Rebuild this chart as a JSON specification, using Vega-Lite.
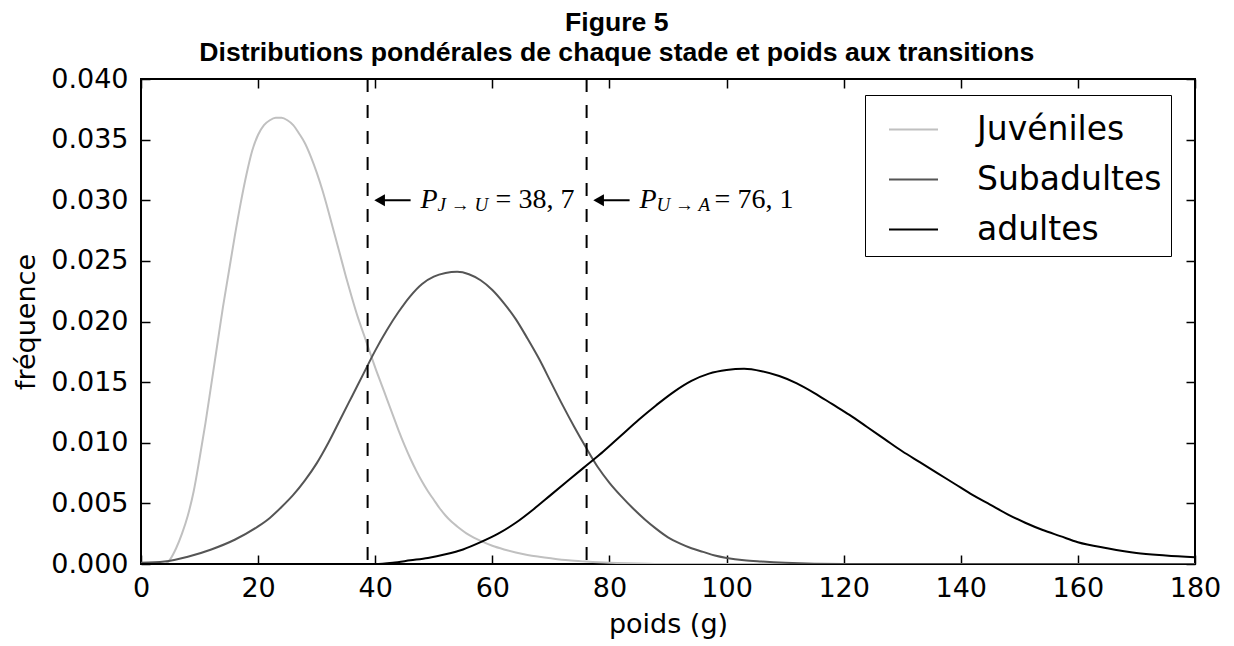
{
  "$schema": "https://vega.github.io/schema/vega-lite/v6.json",
  "width": 1054,
  "height": 485,
  "autosize": {"type": "none"},
  "padding": {"left": 141, "top": 79, "right": 39, "bottom": 82},
  "background": "white",
  "title": {
    "text": ["Figure 5", "Distributions pondérales de chaque stade et poids aux transitions"],
    "font": "Liberation Sans",
    "fontSize": 26.6,
    "fontWeight": "bold",
    "lineHeight": 30,
    "color": "black",
    "anchor": "middle",
    "frame": "bounds",
    "offset": -2
  },
  "config": {
    "view": {"stroke": "black", "strokeWidth": 2},
    "axis": {
      "grid": false,
      "domain": false,
      "tickColor": "black",
      "tickWidth": 1.5,
      "tickSize": -9,
      "labelFont": "DejaVu Sans",
      "labelFontSize": 27,
      "labelColor": "black",
      "titleFont": "DejaVu Sans",
      "titleFontSize": 27,
      "titleFontWeight": "normal",
      "titleColor": "black"
    }
  },
  "datasets": {
    "courbes": [
      {"stade": "Juvéniles", "poids": 0, "freq": 0},
      {"stade": "Juvéniles", "poids": 2, "freq": 0},
      {"stade": "Juvéniles", "poids": 4, "freq": 0},
      {"stade": "Juvéniles", "poids": 4.5, "freq": 0.0001},
      {"stade": "Juvéniles", "poids": 5, "freq": 0.0004},
      {"stade": "Juvéniles", "poids": 6, "freq": 0.0013},
      {"stade": "Juvéniles", "poids": 7, "freq": 0.0025},
      {"stade": "Juvéniles", "poids": 8, "freq": 0.004},
      {"stade": "Juvéniles", "poids": 9, "freq": 0.006},
      {"stade": "Juvéniles", "poids": 10, "freq": 0.0087},
      {"stade": "Juvéniles", "poids": 11, "freq": 0.0116},
      {"stade": "Juvéniles", "poids": 12, "freq": 0.0148},
      {"stade": "Juvéniles", "poids": 13, "freq": 0.018},
      {"stade": "Juvéniles", "poids": 14, "freq": 0.0212},
      {"stade": "Juvéniles", "poids": 15, "freq": 0.0241},
      {"stade": "Juvéniles", "poids": 16, "freq": 0.027},
      {"stade": "Juvéniles", "poids": 17, "freq": 0.0297},
      {"stade": "Juvéniles", "poids": 18, "freq": 0.0321},
      {"stade": "Juvéniles", "poids": 19, "freq": 0.0341},
      {"stade": "Juvéniles", "poids": 20, "freq": 0.0354},
      {"stade": "Juvéniles", "poids": 21, "freq": 0.0362},
      {"stade": "Juvéniles", "poids": 22, "freq": 0.0366},
      {"stade": "Juvéniles", "poids": 23, "freq": 0.0368},
      {"stade": "Juvéniles", "poids": 24, "freq": 0.0368},
      {"stade": "Juvéniles", "poids": 25, "freq": 0.0366},
      {"stade": "Juvéniles", "poids": 26, "freq": 0.0362},
      {"stade": "Juvéniles", "poids": 27, "freq": 0.0355},
      {"stade": "Juvéniles", "poids": 28, "freq": 0.0347},
      {"stade": "Juvéniles", "poids": 29, "freq": 0.0336},
      {"stade": "Juvéniles", "poids": 30, "freq": 0.0323},
      {"stade": "Juvéniles", "poids": 31, "freq": 0.0308},
      {"stade": "Juvéniles", "poids": 32, "freq": 0.0291},
      {"stade": "Juvéniles", "poids": 33, "freq": 0.0273},
      {"stade": "Juvéniles", "poids": 34, "freq": 0.0255},
      {"stade": "Juvéniles", "poids": 35, "freq": 0.0237},
      {"stade": "Juvéniles", "poids": 36, "freq": 0.022},
      {"stade": "Juvéniles", "poids": 37, "freq": 0.0204},
      {"stade": "Juvéniles", "poids": 38, "freq": 0.019},
      {"stade": "Juvéniles", "poids": 39, "freq": 0.0176},
      {"stade": "Juvéniles", "poids": 40, "freq": 0.0162},
      {"stade": "Juvéniles", "poids": 41, "freq": 0.0149},
      {"stade": "Juvéniles", "poids": 42, "freq": 0.0136},
      {"stade": "Juvéniles", "poids": 43, "freq": 0.0123},
      {"stade": "Juvéniles", "poids": 44, "freq": 0.011},
      {"stade": "Juvéniles", "poids": 45, "freq": 0.0098},
      {"stade": "Juvéniles", "poids": 46, "freq": 0.0087},
      {"stade": "Juvéniles", "poids": 47, "freq": 0.0077},
      {"stade": "Juvéniles", "poids": 48, "freq": 0.0068},
      {"stade": "Juvéniles", "poids": 49, "freq": 0.006},
      {"stade": "Juvéniles", "poids": 50, "freq": 0.0053},
      {"stade": "Juvéniles", "poids": 51, "freq": 0.0046},
      {"stade": "Juvéniles", "poids": 52, "freq": 0.004},
      {"stade": "Juvéniles", "poids": 53, "freq": 0.0035},
      {"stade": "Juvéniles", "poids": 54, "freq": 0.0031},
      {"stade": "Juvéniles", "poids": 56, "freq": 0.0024},
      {"stade": "Juvéniles", "poids": 58, "freq": 0.0019},
      {"stade": "Juvéniles", "poids": 60, "freq": 0.0015},
      {"stade": "Juvéniles", "poids": 62, "freq": 0.0012},
      {"stade": "Juvéniles", "poids": 64, "freq": 0.00095},
      {"stade": "Juvéniles", "poids": 66, "freq": 0.00075},
      {"stade": "Juvéniles", "poids": 68, "freq": 0.0006},
      {"stade": "Juvéniles", "poids": 70, "freq": 0.00047},
      {"stade": "Juvéniles", "poids": 73, "freq": 0.0003},
      {"stade": "Juvéniles", "poids": 76, "freq": 0.0002},
      {"stade": "Juvéniles", "poids": 80, "freq": 0.0001},
      {"stade": "Juvéniles", "poids": 85, "freq": 0.00005},
      {"stade": "Juvéniles", "poids": 90, "freq": 0},
      {"stade": "Juvéniles", "poids": 120, "freq": 0},
      {"stade": "Juvéniles", "poids": 180, "freq": 0},
      {"stade": "Subadultes", "poids": 0, "freq": 0.0001},
      {"stade": "Subadultes", "poids": 4, "freq": 0.0002},
      {"stade": "Subadultes", "poids": 8, "freq": 0.0006},
      {"stade": "Subadultes", "poids": 12, "freq": 0.0012},
      {"stade": "Subadultes", "poids": 16, "freq": 0.002},
      {"stade": "Subadultes", "poids": 20, "freq": 0.0031},
      {"stade": "Subadultes", "poids": 22, "freq": 0.0038},
      {"stade": "Subadultes", "poids": 24, "freq": 0.0047},
      {"stade": "Subadultes", "poids": 26, "freq": 0.0057},
      {"stade": "Subadultes", "poids": 28, "freq": 0.0069},
      {"stade": "Subadultes", "poids": 30, "freq": 0.0083},
      {"stade": "Subadultes", "poids": 32, "freq": 0.01},
      {"stade": "Subadultes", "poids": 34, "freq": 0.0119},
      {"stade": "Subadultes", "poids": 36, "freq": 0.0138},
      {"stade": "Subadultes", "poids": 38, "freq": 0.0157},
      {"stade": "Subadultes", "poids": 40, "freq": 0.0176},
      {"stade": "Subadultes", "poids": 42, "freq": 0.0193},
      {"stade": "Subadultes", "poids": 44, "freq": 0.0208},
      {"stade": "Subadultes", "poids": 46, "freq": 0.0221},
      {"stade": "Subadultes", "poids": 48, "freq": 0.0231},
      {"stade": "Subadultes", "poids": 50, "freq": 0.0237},
      {"stade": "Subadultes", "poids": 52, "freq": 0.024},
      {"stade": "Subadultes", "poids": 54, "freq": 0.0241},
      {"stade": "Subadultes", "poids": 56, "freq": 0.0239},
      {"stade": "Subadultes", "poids": 58, "freq": 0.0234},
      {"stade": "Subadultes", "poids": 60, "freq": 0.0226},
      {"stade": "Subadultes", "poids": 62, "freq": 0.0215},
      {"stade": "Subadultes", "poids": 64, "freq": 0.0202},
      {"stade": "Subadultes", "poids": 66, "freq": 0.0186},
      {"stade": "Subadultes", "poids": 68, "freq": 0.0169},
      {"stade": "Subadultes", "poids": 70, "freq": 0.015},
      {"stade": "Subadultes", "poids": 72, "freq": 0.0131},
      {"stade": "Subadultes", "poids": 74, "freq": 0.0113},
      {"stade": "Subadultes", "poids": 76, "freq": 0.0096},
      {"stade": "Subadultes", "poids": 78, "freq": 0.008},
      {"stade": "Subadultes", "poids": 80, "freq": 0.0067},
      {"stade": "Subadultes", "poids": 82, "freq": 0.0056},
      {"stade": "Subadultes", "poids": 84, "freq": 0.0046},
      {"stade": "Subadultes", "poids": 86, "freq": 0.0037},
      {"stade": "Subadultes", "poids": 88, "freq": 0.0029},
      {"stade": "Subadultes", "poids": 90, "freq": 0.0022},
      {"stade": "Subadultes", "poids": 92, "freq": 0.0017},
      {"stade": "Subadultes", "poids": 94, "freq": 0.0013},
      {"stade": "Subadultes", "poids": 96, "freq": 0.001},
      {"stade": "Subadultes", "poids": 98, "freq": 0.0007},
      {"stade": "Subadultes", "poids": 100, "freq": 0.0005},
      {"stade": "Subadultes", "poids": 103, "freq": 0.0003},
      {"stade": "Subadultes", "poids": 106, "freq": 0.0002},
      {"stade": "Subadultes", "poids": 110, "freq": 0.0001},
      {"stade": "Subadultes", "poids": 120, "freq": 0},
      {"stade": "Subadultes", "poids": 180, "freq": 0},
      {"stade": "adultes", "poids": 0, "freq": 0},
      {"stade": "adultes", "poids": 40, "freq": 0},
      {"stade": "adultes", "poids": 43, "freq": 0.0001},
      {"stade": "adultes", "poids": 46, "freq": 0.0003},
      {"stade": "adultes", "poids": 49, "freq": 0.0005},
      {"stade": "adultes", "poids": 52, "freq": 0.0008},
      {"stade": "adultes", "poids": 55, "freq": 0.0012},
      {"stade": "adultes", "poids": 58, "freq": 0.0018},
      {"stade": "adultes", "poids": 61, "freq": 0.0025},
      {"stade": "adultes", "poids": 64, "freq": 0.0034},
      {"stade": "adultes", "poids": 67, "freq": 0.0045},
      {"stade": "adultes", "poids": 70, "freq": 0.0057},
      {"stade": "adultes", "poids": 73, "freq": 0.0069},
      {"stade": "adultes", "poids": 76, "freq": 0.0081},
      {"stade": "adultes", "poids": 79, "freq": 0.0093},
      {"stade": "adultes", "poids": 82, "freq": 0.0106},
      {"stade": "adultes", "poids": 85, "freq": 0.0119},
      {"stade": "adultes", "poids": 88, "freq": 0.0131},
      {"stade": "adultes", "poids": 91, "freq": 0.0142},
      {"stade": "adultes", "poids": 94, "freq": 0.0151},
      {"stade": "adultes", "poids": 97, "freq": 0.0157},
      {"stade": "adultes", "poids": 100, "freq": 0.016},
      {"stade": "adultes", "poids": 103, "freq": 0.0161},
      {"stade": "adultes", "poids": 106, "freq": 0.0159},
      {"stade": "adultes", "poids": 109, "freq": 0.0155},
      {"stade": "adultes", "poids": 112, "freq": 0.0149},
      {"stade": "adultes", "poids": 115, "freq": 0.0141},
      {"stade": "adultes", "poids": 118, "freq": 0.0132},
      {"stade": "adultes", "poids": 121, "freq": 0.0123},
      {"stade": "adultes", "poids": 124, "freq": 0.0113},
      {"stade": "adultes", "poids": 127, "freq": 0.0103},
      {"stade": "adultes", "poids": 130, "freq": 0.0093},
      {"stade": "adultes", "poids": 133, "freq": 0.0084},
      {"stade": "adultes", "poids": 136, "freq": 0.0075},
      {"stade": "adultes", "poids": 139, "freq": 0.0066},
      {"stade": "adultes", "poids": 142, "freq": 0.0057},
      {"stade": "adultes", "poids": 145, "freq": 0.0049},
      {"stade": "adultes", "poids": 148, "freq": 0.0041},
      {"stade": "adultes", "poids": 151, "freq": 0.0034},
      {"stade": "adultes", "poids": 154, "freq": 0.0028},
      {"stade": "adultes", "poids": 157, "freq": 0.0023},
      {"stade": "adultes", "poids": 160, "freq": 0.0018},
      {"stade": "adultes", "poids": 165, "freq": 0.0013},
      {"stade": "adultes", "poids": 170, "freq": 0.0009},
      {"stade": "adultes", "poids": 175, "freq": 0.0007},
      {"stade": "adultes", "poids": 180, "freq": 0.00055}
    ],
    "seuils": [
      {"seuil": 38.7, "niveau": 0.03, "indice": "J → U", "valeur": "= 38, 7"},
      {"seuil": 76.1, "niveau": 0.03, "indice": "U → A", "valeur": "= 76, 1"}
    ]
  },
  "layer": [
    {
      "data": {"name": "courbes"},
      "mark": {"type": "line", "strokeWidth": 2, "interpolate": "monotone", "clip": true},
      "encoding": {
        "x": {
          "field": "poids", "type": "quantitative",
          "scale": {"domain": [0, 180], "nice": false, "zero": false},
          "axis": {"orient": "bottom", "values": [0, 20, 40, 60, 80, 100, 120, 140, 160, 180], "title": "poids (g)", "labelFlush": false, "labelOverlap": false, "labelPadding": 20, "titlePadding": 10}
        },
        "y": {
          "field": "freq", "type": "quantitative",
          "scale": {"domain": [0, 0.04], "nice": false},
          "axis": {"orient": "left", "values": [0, 0.005, 0.01, 0.015, 0.02, 0.025, 0.03, 0.035, 0.04], "format": ".3f", "title": "fréquence", "labelFlush": false, "labelOverlap": false, "labelPadding": 22, "titlePadding": 10}
        },
        "color": {
          "field": "stade", "type": "nominal",
          "scale": {"domain": ["Juvéniles", "Subadultes", "adultes"], "range": ["#c0c0c0", "#555555", "#000000"]},
          "legend": {
            "title": null,
            "orient": "none",
            "legendX": 724,
            "legendY": 16,
            "symbolType": "stroke",
            "symbolSize": 2401,
            "symbolStrokeWidth": 2,
            "labelFont": "DejaVu Sans",
            "labelFontSize": 33,
            "labelColor": "black",
            "labelOffset": 38,
            "labelLimit": 400,
            "labelExpr": "datum.label + '\u00a0'",
            "rowPadding": 7,
            "padding": 9,
            "symbolOffset": 14,
            "strokeColor": "black",
            "fillColor": "white",
            "cornerRadius": 0
          }
        },
        "detail": {"field": "stade"}
      }
    },
    {
      "data": {"name": "courbes"},
      "mark": {"type": "line", "opacity": 0},
      "encoding": {
        "x": {"field": "poids", "type": "quantitative", "axis": {"orient": "top", "values": [0, 20, 40, 60, 80, 100, 120, 140, 160, 180], "labels": false, "title": null}},
        "y": {"field": "freq", "type": "quantitative", "axis": {"orient": "right", "values": [0, 0.005, 0.01, 0.015, 0.02, 0.025, 0.03, 0.035, 0.04], "labels": false, "title": null}},
        "detail": {"field": "stade"}
      }
    },
    {
      "data": {"name": "seuils"},
      "mark": {"type": "rule", "color": "black", "strokeWidth": 2, "strokeDash": [13, 13]},
      "encoding": {
        "x": {"field": "seuil", "type": "quantitative", "axis": null}
      }
    },
    {
      "data": {"name": "seuils"},
      "mark": {"type": "rule", "color": "black", "strokeWidth": 2, "xOffset": 10, "x2Offset": 43},
      "encoding": {
        "x": {"field": "seuil", "type": "quantitative", "axis": null},
        "x2": {"field": "seuil"},
        "y": {"field": "niveau", "type": "quantitative", "axis": null}
      }
    },
    {
      "data": {"name": "seuils"},
      "mark": {"type": "point", "shape": "triangle-left", "filled": true, "color": "black", "opacity": 1, "size": 150, "xOffset": 12},
      "encoding": {
        "x": {"field": "seuil", "type": "quantitative", "axis": null},
        "y": {"field": "niveau", "type": "quantitative", "axis": null}
      }
    },
    {
      "data": {"name": "seuils"},
      "mark": {"type": "text", "text": "P", "font": "Liberation Serif", "fontStyle": "italic", "fontSize": 28, "align": "left", "baseline": "alphabetic", "dx": 53, "dy": 8, "color": "black"},
      "encoding": {
        "x": {"field": "seuil", "type": "quantitative", "axis": null},
        "y": {"field": "niveau", "type": "quantitative", "axis": null}
      }
    },
    {
      "data": {"name": "seuils"},
      "mark": {"type": "text", "font": "Liberation Serif", "fontStyle": "italic", "fontSize": 19, "align": "left", "baseline": "alphabetic", "dx": 70, "dy": 11, "color": "black"},
      "encoding": {
        "x": {"field": "seuil", "type": "quantitative", "axis": null},
        "y": {"field": "niveau", "type": "quantitative", "axis": null},
        "text": {"field": "indice"}
      }
    },
    {
      "data": {"name": "seuils"},
      "mark": {"type": "text", "font": "Liberation Serif", "fontSize": 28, "align": "left", "baseline": "alphabetic", "dx": 128, "dy": 8, "color": "black"},
      "encoding": {
        "x": {"field": "seuil", "type": "quantitative", "axis": null},
        "y": {"field": "niveau", "type": "quantitative", "axis": null},
        "text": {"field": "valeur"}
      }
    }
  ],
  "resolve": {"axis": {"x": "independent", "y": "independent"}}
}
